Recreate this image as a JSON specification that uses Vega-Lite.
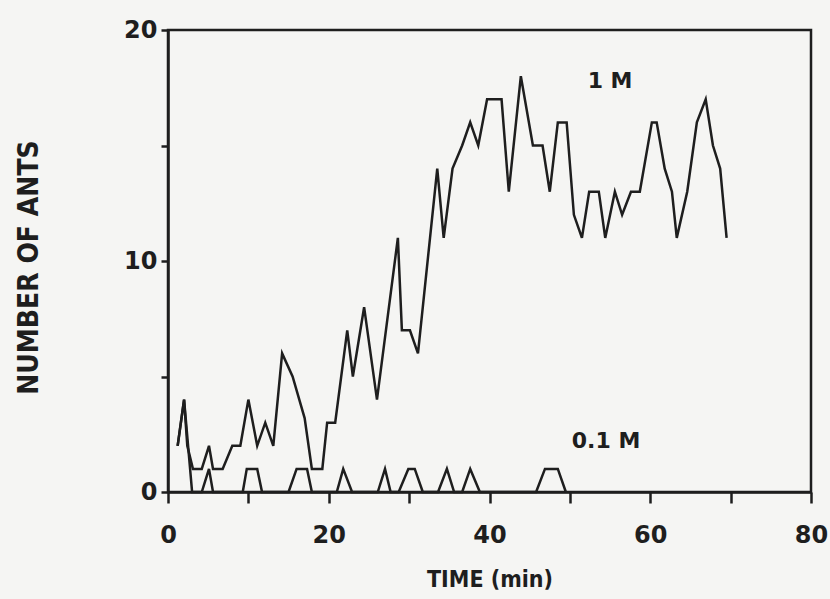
{
  "$schema": "https://vega.github.io/schema/vega-lite/v6.json",
  "width": 643,
  "height": 462,
  "autosize": {"type": "none"},
  "padding": {"left": 168, "top": 30, "right": 19, "bottom": 107},
  "background": "#f5f5f3",
  "config": {
    "view": {"stroke": "#1e1e1e", "strokeWidth": 2.5},
    "font": "DejaVu Sans"
  },
  "datasets": {
    "series": [
      {"series": "1 M", "t": 1.2, "n": 2}, {"series": "1 M", "t": 2.0, "n": 4}, {"series": "1 M", "t": 2.4, "n": 2},
      {"series": "1 M", "t": 3.1, "n": 1}, {"series": "1 M", "t": 4.2, "n": 1}, {"series": "1 M", "t": 5.1, "n": 2},
      {"series": "1 M", "t": 5.6, "n": 1}, {"series": "1 M", "t": 6.8, "n": 1}, {"series": "1 M", "t": 8.0, "n": 2},
      {"series": "1 M", "t": 9.0, "n": 2}, {"series": "1 M", "t": 10.0, "n": 4}, {"series": "1 M", "t": 11.1, "n": 2},
      {"series": "1 M", "t": 12.1, "n": 3}, {"series": "1 M", "t": 13.1, "n": 2}, {"series": "1 M", "t": 14.2, "n": 6},
      {"series": "1 M", "t": 15.5, "n": 5}, {"series": "1 M", "t": 17.0, "n": 3.2}, {"series": "1 M", "t": 17.9, "n": 1},
      {"series": "1 M", "t": 19.2, "n": 1}, {"series": "1 M", "t": 19.8, "n": 3}, {"series": "1 M", "t": 20.8, "n": 3},
      {"series": "1 M", "t": 22.3, "n": 7}, {"series": "1 M", "t": 23.0, "n": 5}, {"series": "1 M", "t": 24.4, "n": 8},
      {"series": "1 M", "t": 26.0, "n": 4}, {"series": "1 M", "t": 28.6, "n": 11}, {"series": "1 M", "t": 29.1, "n": 7},
      {"series": "1 M", "t": 30.1, "n": 7}, {"series": "1 M", "t": 31.1, "n": 6}, {"series": "1 M", "t": 33.5, "n": 14},
      {"series": "1 M", "t": 34.3, "n": 11}, {"series": "1 M", "t": 35.4, "n": 14}, {"series": "1 M", "t": 36.6, "n": 15},
      {"series": "1 M", "t": 37.6, "n": 16}, {"series": "1 M", "t": 38.6, "n": 15}, {"series": "1 M", "t": 39.7, "n": 17},
      {"series": "1 M", "t": 41.5, "n": 17}, {"series": "1 M", "t": 42.4, "n": 13}, {"series": "1 M", "t": 43.9, "n": 18},
      {"series": "1 M", "t": 45.4, "n": 15}, {"series": "1 M", "t": 46.6, "n": 15}, {"series": "1 M", "t": 47.5, "n": 13},
      {"series": "1 M", "t": 48.5, "n": 16}, {"series": "1 M", "t": 49.6, "n": 16}, {"series": "1 M", "t": 50.5, "n": 12},
      {"series": "1 M", "t": 51.5, "n": 11}, {"series": "1 M", "t": 52.4, "n": 13}, {"series": "1 M", "t": 53.6, "n": 13},
      {"series": "1 M", "t": 54.4, "n": 11}, {"series": "1 M", "t": 55.6, "n": 13}, {"series": "1 M", "t": 56.5, "n": 12},
      {"series": "1 M", "t": 57.6, "n": 13}, {"series": "1 M", "t": 58.7, "n": 13}, {"series": "1 M", "t": 60.2, "n": 16},
      {"series": "1 M", "t": 60.8, "n": 16}, {"series": "1 M", "t": 61.8, "n": 14}, {"series": "1 M", "t": 62.7, "n": 13},
      {"series": "1 M", "t": 63.3, "n": 11}, {"series": "1 M", "t": 64.6, "n": 13}, {"series": "1 M", "t": 65.8, "n": 16},
      {"series": "1 M", "t": 66.9, "n": 17}, {"series": "1 M", "t": 67.8, "n": 15}, {"series": "1 M", "t": 68.7, "n": 14},
      {"series": "1 M", "t": 69.5, "n": 11},
      {"series": "0.1 M", "t": 1.2, "n": 2}, {"series": "0.1 M", "t": 2.0, "n": 4}, {"series": "0.1 M", "t": 3.0, "n": 0},
      {"series": "0.1 M", "t": 4.2, "n": 0}, {"series": "0.1 M", "t": 5.1, "n": 1}, {"series": "0.1 M", "t": 5.6, "n": 0},
      {"series": "0.1 M", "t": 9.3, "n": 0}, {"series": "0.1 M", "t": 9.8, "n": 1}, {"series": "0.1 M", "t": 11.1, "n": 1},
      {"series": "0.1 M", "t": 11.7, "n": 0}, {"series": "0.1 M", "t": 15.0, "n": 0}, {"series": "0.1 M", "t": 16.0, "n": 1},
      {"series": "0.1 M", "t": 17.3, "n": 1}, {"series": "0.1 M", "t": 17.9, "n": 0}, {"series": "0.1 M", "t": 21.0, "n": 0},
      {"series": "0.1 M", "t": 21.8, "n": 1}, {"series": "0.1 M", "t": 22.9, "n": 0}, {"series": "0.1 M", "t": 26.1, "n": 0},
      {"series": "0.1 M", "t": 27.0, "n": 1}, {"series": "0.1 M", "t": 27.7, "n": 0}, {"series": "0.1 M", "t": 28.7, "n": 0},
      {"series": "0.1 M", "t": 29.9, "n": 1}, {"series": "0.1 M", "t": 30.7, "n": 1}, {"series": "0.1 M", "t": 31.7, "n": 0},
      {"series": "0.1 M", "t": 33.6, "n": 0}, {"series": "0.1 M", "t": 34.7, "n": 1}, {"series": "0.1 M", "t": 35.6, "n": 0},
      {"series": "0.1 M", "t": 36.6, "n": 0}, {"series": "0.1 M", "t": 37.6, "n": 1}, {"series": "0.1 M", "t": 38.8, "n": 0},
      {"series": "0.1 M", "t": 45.8, "n": 0}, {"series": "0.1 M", "t": 46.9, "n": 1}, {"series": "0.1 M", "t": 48.5, "n": 1},
      {"series": "0.1 M", "t": 49.5, "n": 0}
    ],
    "labels": [
      {"label": "1 M", "t": 55, "n": 17.8},
      {"label": "0.1 M", "t": 54.5, "n": 2.2}
    ]
  },
  "layer": [
    {
      "data": {"name": "series"},
      "mark": {"type": "line", "strokeWidth": 2.5, "strokeJoin": "miter", "clip": false},
      "encoding": {
        "x": {
          "field": "t", "type": "quantitative",
          "scale": {"domain": [0, 80], "nice": false, "zero": false},
          "axis": {
            "values": [0, 10, 20, 30, 40, 50, 60, 70, 80],
            "labelExpr": "datum.value % 20 === 0 ? datum.label : ''",
            "grid": false,
            "title": "TIME (min)",
            "titleFont": "DejaVu Sans Condensed", "titleFontSize": 23, "titleFontWeight": "bold", "titleColor": "#1e1e1e",
            "titleX": 321.5, "titleY": 94, "titleBaseline": "alphabetic", "titleAlign": "center",
            "labelFont": "DejaVu Sans", "labelFontSize": 24, "labelFontWeight": "bold", "labelColor": "#1e1e1e",
            "labelPadding": 20, "labelFlush": false, "labelOverlap": false,
            "tickSize": 11, "tickWidth": 2.5, "tickColor": "#1e1e1e",
            "domainWidth": 2.5, "domainColor": "#1e1e1e"
          }
        },
        "y": {
          "field": "n", "type": "quantitative",
          "scale": {"domain": [0, 20], "nice": false, "zero": false},
          "axis": {
            "values": [0, 5, 10, 15, 20],
            "labelExpr": "datum.value % 10 === 0 ? datum.label : ''",
            "grid": false,
            "title": "NUMBER OF ANTS",
            "titleFont": "DejaVu Sans Condensed", "titleFontSize": 28, "titleFontWeight": "bold", "titleColor": "#1e1e1e",
            "titleX": -131, "titleY": 237, "titleBaseline": "alphabetic", "titleAlign": "center", "titleAngle": -90,
            "labelFont": "DejaVu Sans", "labelFontSize": 24, "labelFontWeight": "bold", "labelColor": "#1e1e1e",
            "labelPadding": 4, "labelFlush": false, "labelOverlap": false,
            "tickSize": 7, "tickWidth": 2.5, "tickColor": "#1e1e1e",
            "domainWidth": 2.5, "domainColor": "#1e1e1e"
          }
        },
        "detail": {"field": "series", "type": "nominal"},
        "color": {"value": "#1e1e1e"}
      }
    },
    {
      "data": {"name": "labels"},
      "mark": {"type": "text", "font": "DejaVu Sans", "fontSize": 22, "fontWeight": "bold", "color": "#1e1e1e", "align": "center", "baseline": "middle"},
      "encoding": {
        "x": {"field": "t", "type": "quantitative"},
        "y": {"field": "n", "type": "quantitative"},
        "text": {"field": "label"}
      }
    }
  ]
}
